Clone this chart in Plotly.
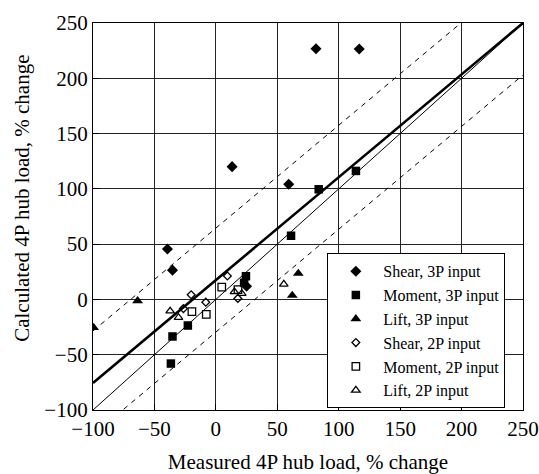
import plotly.graph_objects as go

# ---- data ----
shear3p_x = [81.5, 116.7, 13.2, 59.3, -39.4, -35.3, 25.0]
shear3p_y = [226.7, 226.4, 120.1, 104.2, 45.6, 26.5, 12.0]

moment3p_x = [83.7, 114.0, 61.2, -22.8, -35.3, -36.6, 24.5, 23.0]
moment3p_y = [99.6, 116.2, 57.6, -23.6, -33.5, -58.0, 21.0, 15.0]

lift3p_x = [-99.5, -63.7, 67.1, 62.2]
lift3p_y = [-25.4, -1.3, 23.5, 3.6]

shear2p_x = [-20.1, -8.2, -26.4, 9.4, 17.9]
shear2p_y = [4.2, -2.5, -8.3, 21.2, 0.9]

moment2p_x = [-19.5, -7.8, 4.8, 18.0]
moment2p_y = [-11.0, -13.6, 11.2, 8.8]

lift2p_x = [-37.2, -30.4, 15.1, 21.1, 55.3]
lift2p_y = [-10.5, -16.3, 6.9, 5.4, 13.8]

# reference lines
fit_slope = 0.93
fit_intercept = 17.5
band = 47.0
axis_range = [-100, 250]
tick_vals = [-100, -50, 0, 50, 100, 150, 200, 250]

x_title = "Measured 4P hub load, % change"
y_title = "Calculated 4P hub load, % change"

FONT = "Liberation Serif"

fig = go.Figure()

lx = axis_range
# perfect-agreement line y = x
fig.add_trace(go.Scatter(x=lx, y=lx, mode="lines", showlegend=False,
                         line=dict(color="black", width=1), hoverinfo="skip"))
# fit line
fig.add_trace(go.Scatter(x=lx, y=[fit_slope * v + fit_intercept for v in lx],
                         mode="lines", showlegend=False,
                         line=dict(color="black", width=2.6), hoverinfo="skip"))
# band lines
for s in (1, -1):
    fig.add_trace(go.Scatter(x=lx, y=[fit_slope * v + fit_intercept + s * band for v in lx],
                             mode="lines", showlegend=False,
                             line=dict(color="black", width=1, dash="5px,5px"),
                             hoverinfo="skip"))

series = [
    ("Shear, 3P input", shear3p_x, shear3p_y, "diamond", 8.5),
    ("Moment, 3P input", moment3p_x, moment3p_y, "square", 8.5),
    ("Lift, 3P input", lift3p_x, lift3p_y, "triangle-up", 9.5),
    ("Shear, 2P input", shear2p_x, shear2p_y, "diamond-open", 6),
    ("Moment, 2P input", moment2p_x, moment2p_y, "square-open", 7.5),
    ("Lift, 2P input", lift2p_x, lift2p_y, "triangle-up-open", 7.5),
]
for name, xs, ys, sym, size in series:
    fig.add_trace(go.Scatter(
        x=xs, y=ys, mode="markers", name=name,
        marker=dict(symbol=sym, size=size, color="black",
                    line=dict(color="black", width=1.3 if "open" in sym else 0)),
    ))

axis_common = dict(
    range=axis_range, tickvals=tick_vals, showgrid=True, gridcolor="#222",
    gridwidth=1, zeroline=False, showline=True, linecolor="black", linewidth=1.2,
    mirror=True, ticks="inside", ticklen=6, tickcolor="black", automargin=False,
    tickfont=dict(family=FONT, size=21, color="black"),
)

fig.update_layout(
    width=539, height=474,
    margin=dict(l=93, r=16, t=23, b=64),
    paper_bgcolor="white", plot_bgcolor="white",
    font=dict(family=FONT, color="black"),
    xaxis=dict(**axis_common,
               title=dict(text=x_title,
                          font=dict(family=FONT, size=21), standoff=14)),
    yaxis=dict(**axis_common),
    legend=dict(x=0.545, y=0.405, xanchor="left", yanchor="top",
                bgcolor="white", bordercolor="black", borderwidth=1,
                font=dict(family=FONT, size=16, color="black"),
                itemwidth=45, tracegroupgap=0),
    showlegend=True,
    annotations=[dict(text=y_title, textangle=-90, showarrow=False,
                      xref="paper", yref="paper", x=-0.164, y=0.547,
                      xanchor="center", yanchor="middle",
                      font=dict(family=FONT, size=21, color="black"))],
)

fig.write_html("out.html")
